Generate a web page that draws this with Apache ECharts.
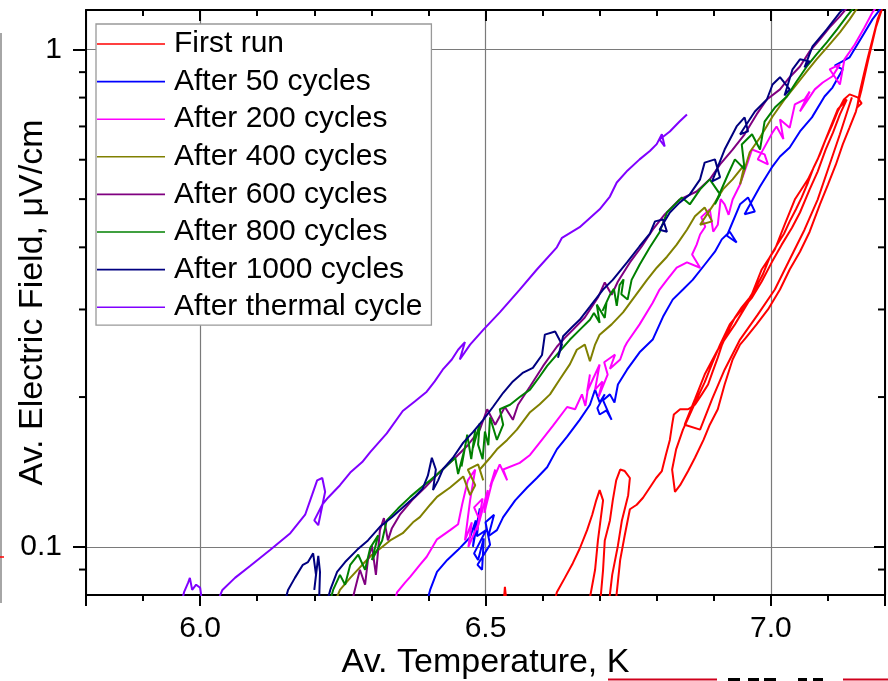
<!DOCTYPE html>
<html>
<head>
<meta charset="utf-8">
<script src="https://cdn.jsdelivr.net/npm/echarts@6/dist/echarts.min.js"></script>
<style>
  html, body { margin: 0; padding: 0; background: #fff; }
  #chart { width: 888px; height: 681px; }
</style>
</head>
<body>
<div id="chart"></div>
<script>
// series names / colours (legend order)
const seriesNames = ['First run', 'After 50 cycles', 'After 200 cycles', 'After 400 cycles',
  'After 600 cycles', 'After 800 cycles', 'After 1000 cycles', 'After thermal cycle']
const seriesColors = ['#ff0000', '#0000ff', '#ff00ff', '#808000', '#800080', '#008000', '#000080', '#8000ff']

// [temperature K, electric field uV/cm]
// points under 0.08 leave the plot, that is where a trace breaks
const firstRun = [
  [6.531, 0.075], [6.534, 0.0831], [6.538, 0.075],
  [6.618, 0.075], [6.625, 0.081], [6.639, 0.0866], [6.653, 0.0927], [6.665, 0.0991], [6.678, 0.108],
  [6.687, 0.116], [6.694, 0.124], [6.700, 0.130], [6.706, 0.124], [6.697, 0.103], [6.692, 0.0899],
  [6.683, 0.079], [6.680, 0.075],
  [6.700, 0.075], [6.706, 0.0899], [6.709, 0.103], [6.718, 0.113], [6.723, 0.124], [6.729, 0.136],
  [6.736, 0.143], [6.744, 0.142], [6.753, 0.1375], [6.750, 0.127], [6.739, 0.113], [6.732, 0.1005],
  [6.722, 0.0878], [6.715, 0.075],
  [6.727, 0.075], [6.736, 0.0941], [6.744, 0.1055], [6.753, 0.119], [6.765, 0.1215], [6.776, 0.1255],
  [6.788, 0.1316], [6.799, 0.1375], [6.809, 0.142], [6.816, 0.153], [6.823, 0.164], [6.827, 0.176],
  [6.830, 0.1845], [6.841, 0.189], [6.855, 0.189], [6.867, 0.193], [6.879, 0.2025], [6.890, 0.212],
  [6.898, 0.225], [6.907, 0.240], [6.914, 0.254], [6.925, 0.271], [6.937, 0.289], [6.949, 0.303],
  [6.963, 0.317], [6.975, 0.334], [6.986, 0.353], [6.998, 0.382], [7.011, 0.405], [7.023, 0.426],
  [7.033, 0.451], [7.044, 0.477], [7.054, 0.504], [7.065, 0.540], [7.075, 0.579], [7.086, 0.615],
  [7.096, 0.659], [7.107, 0.703], [7.117, 0.750], [7.128, 0.793], [7.138, 0.812], [7.152, 0.801],
  [7.159, 0.779], [7.151, 0.764], [7.156, 0.823], [7.163, 0.891], [7.170, 0.963], [7.179, 1.057],
  [7.187, 1.149], [7.198, 1.238],
  [7.184, 1.107], [7.170, 0.946], [7.159, 0.831], [7.149, 0.750], [7.138, 0.697], [7.126, 0.644],
  [7.114, 0.587], [7.100, 0.535], [7.086, 0.488], [7.068, 0.430], [7.051, 0.392], [7.033, 0.361],
  [7.016, 0.329], [6.995, 0.300], [6.975, 0.280], [6.956, 0.263], [6.946, 0.255], [6.933, 0.238],
  [6.919, 0.212], [6.907, 0.189], [6.893, 0.176], [6.882, 0.164], [6.867, 0.151], [6.855, 0.142],
  [6.841, 0.133], [6.832, 0.129],
  [6.827, 0.143], [6.834, 0.157], [6.846, 0.172], [6.858, 0.1845], [6.870, 0.198], [6.884, 0.214],
  [6.897, 0.2335], [6.911, 0.255], [6.928, 0.280], [6.946, 0.297], [6.967, 0.317], [6.984, 0.3415],
  [7.002, 0.374], [7.019, 0.405], [7.037, 0.438], [7.051, 0.470], [7.068, 0.523], [7.082, 0.568],
  [7.096, 0.629], [7.109, 0.681], [7.121, 0.740], [7.133, 0.793],
  [7.117, 0.757], [7.096, 0.659], [7.082, 0.601], [7.065, 0.548], [7.042, 0.499], [7.024, 0.444],
  [7.007, 0.396], [6.984, 0.361], [6.963, 0.314], [6.937, 0.280], [6.907, 0.249], [6.884, 0.222],
  [6.867, 0.198], [6.849, 0.176],
  [6.876, 0.172], [6.897, 0.198], [6.919, 0.227], [6.946, 0.261], [6.977, 0.293], [7.007, 0.329],
  [7.033, 0.378], [7.059, 0.434], [7.082, 0.499], [7.103, 0.587], [7.121, 0.675], [7.135, 0.757],
  [7.142, 0.801]
]
const after50 = [
  [6.394, 0.075], [6.403, 0.0819], [6.415, 0.089], [6.433, 0.0941], [6.452, 0.0986], [6.473, 0.1045],
  [6.483, 0.113], [6.478, 0.100], [6.490, 0.1195], [6.485, 0.105], [6.501, 0.108], [6.480, 0.097],
  [6.487, 0.0941], [6.497, 0.104], [6.494, 0.0899], [6.486, 0.092], [6.508, 0.101], [6.500, 0.112],
  [6.515, 0.116], [6.505, 0.105], [6.520, 0.108], [6.531, 0.1147], [6.552, 0.124], [6.573, 0.1316],
  [6.590, 0.1375], [6.608, 0.1445], [6.625, 0.157], [6.643, 0.1665], [6.665, 0.180], [6.683, 0.193],
  [6.692, 0.207], [6.700, 0.195], [6.709, 0.2025], [6.696, 0.190], [6.700, 0.1845], [6.712, 0.188],
  [6.721, 0.180], [6.706, 0.197], [6.718, 0.2025], [6.726, 0.195], [6.732, 0.212], [6.748, 0.227],
  [6.770, 0.246], [6.793, 0.261], [6.811, 0.290], [6.828, 0.314], [6.846, 0.329], [6.863, 0.344],
  [6.884, 0.369], [6.902, 0.392], [6.914, 0.415], [6.928, 0.430], [6.940, 0.409], [6.923, 0.422],
  [6.946, 0.488], [6.960, 0.504], [6.972, 0.472], [6.954, 0.466], [6.981, 0.530], [7.003, 0.582],
  [7.016, 0.609], [7.033, 0.635], [7.051, 0.684], [7.072, 0.730], [7.094, 0.804], [7.108, 0.838],
  [7.126, 0.912], [7.112, 0.928], [7.138, 0.964], [7.159, 1.057], [7.178, 1.149], [7.194, 1.215]
]
const after200 = [
  [6.338, 0.075], [6.345, 0.081], [6.359, 0.0847], [6.368, 0.087], [6.385, 0.092], [6.397, 0.0955],
  [6.415, 0.1035], [6.438, 0.108], [6.452, 0.111], [6.459, 0.1215], [6.469, 0.136], [6.482, 0.143],
  [6.473, 0.124], [6.464, 0.103], [6.476, 0.112], [6.470, 0.100], [6.490, 0.113], [6.480, 0.120],
  [6.495, 0.125], [6.485, 0.108], [6.504, 0.130], [6.498, 0.117], [6.517, 0.143], [6.508, 0.132],
  [6.525, 0.1465], [6.538, 0.136], [6.531, 0.143], [6.560, 0.1475], [6.578, 0.153], [6.595, 0.162],
  [6.618, 0.175], [6.643, 0.191], [6.657, 0.189], [6.669, 0.2025], [6.675, 0.192], [6.683, 0.222],
  [6.678, 0.205], [6.700, 0.2325], [6.692, 0.207], [6.705, 0.215], [6.698, 0.200], [6.714, 0.222],
  [6.708, 0.235], [6.727, 0.2435], [6.718, 0.228], [6.736, 0.238], [6.744, 0.2525], [6.748, 0.2575],
  [6.770, 0.280], [6.793, 0.3095], [6.805, 0.329], [6.818, 0.344], [6.835, 0.364], [6.853, 0.373],
  [6.876, 0.364], [6.862, 0.387], [6.870, 0.405], [6.876, 0.4245], [6.885, 0.440], [6.878, 0.460],
  [6.893, 0.477], [6.899, 0.430], [6.907, 0.444], [6.912, 0.500], [6.919, 0.488], [6.926, 0.465],
  [6.933, 0.499], [6.946, 0.535], [6.960, 0.595], [6.967, 0.629], [6.989, 0.615], [6.995, 0.587],
  [6.977, 0.601], [7.003, 0.681], [7.010, 0.700], [7.022, 0.660], [7.016, 0.723], [7.033, 0.696],
  [7.042, 0.775], [7.059, 0.793], [7.068, 0.823], [7.051, 0.750], [7.077, 0.831], [7.091, 0.858],
  [7.108, 0.883], [7.121, 0.933], [7.103, 0.912], [7.121, 0.850], [7.129, 0.955], [7.147, 1.023],
  [7.164, 1.107], [7.178, 1.187], [7.191, 1.243]
]
const after400 = [
  [6.231, 0.075], [6.245, 0.0819], [6.263, 0.0866], [6.284, 0.092], [6.301, 0.0964], [6.315, 0.0991],
  [6.333, 0.103], [6.355, 0.1065], [6.373, 0.112], [6.385, 0.1147], [6.403, 0.1215], [6.415, 0.126],
  [6.438, 0.1316], [6.461, 0.1385], [6.473, 0.127], [6.482, 0.133], [6.469, 0.143], [6.487, 0.1465],
  [6.496, 0.136], [6.490, 0.143], [6.508, 0.151], [6.520, 0.157], [6.538, 0.164], [6.555, 0.172],
  [6.578, 0.1865], [6.595, 0.1935], [6.613, 0.2025], [6.630, 0.217], [6.648, 0.233], [6.660, 0.249],
  [6.674, 0.255], [6.683, 0.236], [6.692, 0.255], [6.700, 0.267], [6.721, 0.280], [6.741, 0.296],
  [6.762, 0.319], [6.783, 0.344], [6.800, 0.364], [6.818, 0.383], [6.835, 0.405], [6.853, 0.434],
  [6.867, 0.462], [6.884, 0.481], [6.897, 0.451], [6.876, 0.444], [6.902, 0.492], [6.916, 0.523],
  [6.933, 0.548], [6.954, 0.587], [6.946, 0.535], [6.963, 0.621], [6.981, 0.665], [7.003, 0.733],
  [7.024, 0.793], [7.045, 0.850], [7.063, 0.903], [7.080, 0.955], [7.100, 1.014], [7.121, 1.082],
  [7.138, 1.149], [7.150, 1.204], [7.159, 1.243]
]
const after600 = [
  [6.263, 0.075], [6.271, 0.0819], [6.280, 0.0899], [6.289, 0.0839], [6.294, 0.0941], [6.301, 0.1005],
  [6.308, 0.0878], [6.315, 0.108], [6.322, 0.1142], [6.329, 0.103], [6.336, 0.109], [6.350, 0.116],
  [6.371, 0.124], [6.394, 0.1316], [6.420, 0.1415], [6.447, 0.151], [6.469, 0.160], [6.490, 0.172],
  [6.503, 0.189], [6.517, 0.176], [6.534, 0.191], [6.548, 0.180], [6.557, 0.193], [6.578, 0.210],
  [6.601, 0.231], [6.625, 0.2525], [6.639, 0.263], [6.653, 0.273], [6.674, 0.289], [6.697, 0.317],
  [6.709, 0.340], [6.721, 0.321], [6.732, 0.3415], [6.753, 0.373], [6.774, 0.402], [6.793, 0.434],
  [6.814, 0.466], [6.840, 0.499], [6.870, 0.518], [6.893, 0.548], [6.911, 0.587], [6.933, 0.629],
  [6.954, 0.675], [6.975, 0.740], [6.993, 0.793], [7.016, 0.831], [7.033, 0.879], [7.051, 0.924],
  [7.068, 0.991], [7.086, 1.047], [7.103, 1.107], [7.121, 1.165], [7.138, 1.23]
]
const after800 = [
  [6.224, 0.075], [6.233, 0.0819], [6.245, 0.0878], [6.254, 0.0839], [6.263, 0.092], [6.277, 0.0964],
  [6.289, 0.0899], [6.298, 0.0995], [6.312, 0.1055], [6.301, 0.0941], [6.319, 0.103], [6.327, 0.113],
  [6.347, 0.1195], [6.368, 0.126], [6.385, 0.131], [6.403, 0.136], [6.425, 0.143], [6.447, 0.151],
  [6.452, 0.140], [6.462, 0.155], [6.458, 0.145], [6.468, 0.168], [6.475, 0.150], [6.482, 0.172],
  [6.478, 0.158], [6.490, 0.177], [6.487, 0.1605], [6.495, 0.150], [6.499, 0.1705], [6.505, 0.160],
  [6.508, 0.182], [6.520, 0.164], [6.531, 0.176], [6.525, 0.189], [6.543, 0.193], [6.560, 0.200],
  [6.578, 0.207], [6.595, 0.220], [6.608, 0.231], [6.630, 0.247], [6.648, 0.261], [6.665, 0.273],
  [6.683, 0.286], [6.690, 0.295], [6.700, 0.282], [6.695, 0.307], [6.709, 0.2885], [6.712, 0.310],
  [6.705, 0.298], [6.718, 0.321], [6.725, 0.330], [6.730, 0.305], [6.735, 0.336], [6.742, 0.345],
  [6.738, 0.322], [6.749, 0.314], [6.756, 0.344], [6.770, 0.369], [6.788, 0.400], [6.805, 0.429],
  [6.818, 0.470], [6.832, 0.488], [6.844, 0.504], [6.858, 0.488], [6.876, 0.523], [6.893, 0.548],
  [6.911, 0.511], [6.902, 0.488], [6.925, 0.561], [6.937, 0.601], [6.954, 0.574], [6.949, 0.644],
  [6.967, 0.675], [6.981, 0.629], [6.989, 0.716], [7.007, 0.764], [7.028, 0.804], [7.045, 0.862],
  [7.063, 0.924], [7.080, 0.977], [7.098, 1.033], [7.116, 1.097], [7.133, 1.165], [7.147, 1.22],
  [7.156, 1.26]
]
const after1000 = [
  [6.145, 0.075], [6.154, 0.0819], [6.166, 0.0866], [6.180, 0.092], [6.189, 0.0932], [6.198, 0.097],
  [6.203, 0.0878], [6.200, 0.0819], [6.207, 0.0959], [6.210, 0.089], [6.208, 0.075],
  [6.219, 0.075], [6.228, 0.0819], [6.240, 0.089], [6.254, 0.0932], [6.275, 0.0986], [6.294, 0.103],
  [6.315, 0.1097], [6.336, 0.1147], [6.355, 0.120], [6.376, 0.126], [6.390, 0.131], [6.399, 0.139],
  [6.406, 0.151], [6.413, 0.143], [6.408, 0.130], [6.417, 0.136], [6.425, 0.143], [6.443, 0.151],
  [6.461, 0.162], [6.478, 0.170], [6.496, 0.180], [6.513, 0.191], [6.531, 0.204], [6.548, 0.215],
  [6.566, 0.224], [6.583, 0.229], [6.599, 0.243], [6.604, 0.267], [6.622, 0.271], [6.634, 0.255],
  [6.627, 0.240], [6.636, 0.265], [6.651, 0.276], [6.665, 0.286], [6.683, 0.304], [6.706, 0.329],
  [6.723, 0.344], [6.748, 0.373], [6.770, 0.402], [6.788, 0.426], [6.797, 0.451], [6.811, 0.455],
  [6.818, 0.430], [6.805, 0.434], [6.823, 0.470], [6.840, 0.492], [6.858, 0.511], [6.876, 0.548],
  [6.884, 0.592], [6.902, 0.601], [6.911, 0.553], [6.897, 0.543], [6.919, 0.629], [6.940, 0.700],
  [6.954, 0.730], [6.960, 0.684], [6.946, 0.675], [6.972, 0.750], [6.993, 0.793], [7.003, 0.850],
  [7.016, 0.879], [7.033, 0.831], [7.024, 0.808], [7.038, 0.912], [7.051, 0.955], [7.068, 0.946],
  [7.059, 0.920], [7.073, 1.014], [7.098, 1.097], [7.121, 1.187], [7.135, 1.23]
]
const afterThermal = [
  [5.965, 0.075], [5.972, 0.0812], [5.979, 0.0847], [5.982, 0.0866], [5.986, 0.0819], [5.993, 0.0839],
  [6.000, 0.0827], [6.005, 0.075],
  [6.025, 0.075], [6.039, 0.0819], [6.061, 0.0866], [6.088, 0.0916], [6.123, 0.0986], [6.158, 0.1065],
  [6.184, 0.116], [6.196, 0.127], [6.205, 0.136], [6.214, 0.1375], [6.219, 0.129], [6.207, 0.1105],
  [6.200, 0.113], [6.214, 0.1215], [6.224, 0.1255], [6.245, 0.133], [6.263, 0.141], [6.284, 0.148],
  [6.298, 0.155], [6.327, 0.169], [6.355, 0.1875], [6.376, 0.196], [6.397, 0.205], [6.411, 0.215],
  [6.425, 0.227], [6.441, 0.238], [6.452, 0.249], [6.464, 0.258], [6.455, 0.238], [6.473, 0.255],
  [6.496, 0.273], [6.525, 0.296], [6.560, 0.329], [6.590, 0.361], [6.625, 0.400], [6.634, 0.418],
  [6.665, 0.439], [6.700, 0.477], [6.718, 0.506], [6.730, 0.540], [6.749, 0.571], [6.770, 0.601],
  [6.788, 0.625], [6.800, 0.645], [6.809, 0.675], [6.814, 0.638], [6.805, 0.659], [6.823, 0.684],
  [6.840, 0.716], [6.853, 0.740]
]
const seriesData = [firstRun, after50, after200, after400, after600, after800, after1000, afterThermal]

// axis ranges and the log minor ticks (0.09, 0.2 ... 0.9)
const xRange = [5.8, 7.2]
const yRange = [0.08, 1.2]
const yMinorTicks = [0.09, 0.2, 0.3, 0.4, 0.5, 0.6, 0.7, 0.8, 0.9]

const FONT = '"Liberation Sans", Arial, Helvetica, sans-serif'

const chart = echarts.init(document.getElementById('chart'), null, { renderer: 'canvas' })

const axisLineStyle = { color: '#000', width: 2 }

const option = {
  animation: false,
  backgroundColor: '#fff',
  textStyle: { fontFamily: FONT },
  grid: { left: 86, right: 3, top: 10, bottom: 86, containLabel: false, outerBoundsMode: 'none' },
  legend: {
    data: seriesNames,
    orient: 'vertical',
    left: 96,
    top: 24,
    icon: 'rect',
    itemWidth: 68,
    itemHeight: 1.6,
    itemGap: 7.6,
    padding: [5, 9, 3, 1],
    backgroundColor: '#fff',
    borderColor: '#999',
    borderWidth: 1.3,
    borderRadius: 0,
    selectedMode: false,
    textStyle: { fontSize: 30, lineHeight: 30, color: '#000', fontFamily: FONT, padding: [0, 0, 0, 4] }
  },
  xAxis: [
    {
      type: 'value', position: 'bottom', min: xRange[0], max: xRange[1], splitNumber: 3,
      name: 'Av. Temperature, K', nameLocation: 'middle', nameGap: 51, nameMoveOverlap: false,
      nameTextStyle: { fontSize: 34, color: '#000', fontFamily: FONT },
      axisLine: { show: true, onZero: false, lineStyle: axisLineStyle },
      axisTick: { show: true, inside: false, length: 11, lineStyle: axisLineStyle },
      minorTick: { show: true, splitNumber: 5, length: 6, lineStyle: axisLineStyle },
      axisLabel: { show: true, margin: 19, fontSize: 30, color: '#000', fontFamily: FONT,
        showMinLabel: false, showMaxLabel: false, formatter: v => v.toFixed(1) },
      splitLine: { show: true, lineStyle: { color: '#7a7a7a', width: 1.2 } }
    },
    {
      type: 'value', position: 'top', min: xRange[0], max: xRange[1], splitNumber: 3,
      axisLine: { show: true, onZero: false, lineStyle: axisLineStyle },
      axisTick: { show: true, inside: true, length: 11, lineStyle: axisLineStyle },
      minorTick: { show: true, splitNumber: 5, length: 6, lineStyle: axisLineStyle },
      axisLabel: { show: false },
      splitLine: { show: false }
    }
  ],
  yAxis: [
    {
      type: 'log', logBase: 10, position: 'left', min: yRange[0], max: yRange[1],
      name: 'Av. Electric Field, \u03bcV/cm', nameLocation: 'middle', nameGap: 36, nameRotate: 90,
      nameMoveOverlap: false,
      nameTextStyle: { fontSize: 34, color: '#000', fontFamily: FONT },
      axisLine: { show: true, onZero: false, lineStyle: axisLineStyle },
      axisTick: { show: true, inside: false, length: 13, lineStyle: axisLineStyle },
      axisLabel: { show: true, margin: 24, fontSize: 30, color: '#000', fontFamily: FONT,
        showMinLabel: false, showMaxLabel: false },
      splitLine: { show: true, lineStyle: { color: '#7a7a7a', width: 1.2 } }
    },
    {
      type: 'log', logBase: 10, position: 'right', min: yRange[0], max: yRange[1],
      axisLine: { show: true, onZero: false, lineStyle: axisLineStyle },
      axisTick: { show: true, inside: true, length: 11, lineStyle: axisLineStyle },
      axisLabel: { show: false },
      splitLine: { show: false }
    }
  ],
  series: seriesData.map((d, i) => ({
    name: seriesNames[i],
    type: 'line',
    data: d,
    xAxisIndex: 0,
    yAxisIndex: 0,
    symbol: 'none',
    showSymbol: false,
    clip: true,
    z: 2 + i * 0.01,
    itemStyle: { color: seriesColors[i] },
    lineStyle: { color: seriesColors[i], width: 2 }
  })).concat([{
    // minor ticks of the log axes: left side outward, right side inward
    name: 'yMinor',
    type: 'custom',
    xAxisIndex: 0,
    yAxisIndex: 0,
    silent: true,
    z: 10,
    data: yMinorTicks.map(v => [xRange[0], v]),
    renderItem: (params, api) => {
      const v = api.value(1)
      const p = api.coord([xRange[0], v])
      const q = api.coord([xRange[1], v])
      const st = { stroke: '#000', lineWidth: 2 }
      return {
        type: 'group',
        children: [
          { type: 'line', shape: { x1: p[0] - 7, y1: p[1], x2: p[0], y2: p[1] }, style: st },
          { type: 'line', shape: { x1: q[0] - 7, y1: q[1], x2: q[0], y2: q[1] }, style: st }
        ]
      }
    }
  }]),
  // bits of the neighbouring figure cut off at the edges of the picture
  graphic: [
    { type: 'line', shape: { x1: 1, y1: 33, x2: 1, y2: 603 }, style: { stroke: '#888', lineWidth: 1.5 } },
    { type: 'line', shape: { x1: 0, y1: 557, x2: 4, y2: 557 }, style: { stroke: '#f00', lineWidth: 1.5 } },
    { type: 'line', shape: { x1: 608, y1: 679.5, x2: 717, y2: 679.5 }, style: { stroke: '#d0001c', lineWidth: 2 } },
    { type: 'line', shape: { x1: 843, y1: 679.5, x2: 888, y2: 679.5 }, style: { stroke: '#d0001c', lineWidth: 2 } },
    { type: 'rect', shape: { x: 728, y: 678, width: 12, height: 3 }, style: { fill: '#000' } },
    { type: 'rect', shape: { x: 748, y: 678, width: 11, height: 3 }, style: { fill: '#000' } },
    { type: 'rect', shape: { x: 764, y: 678, width: 12, height: 3 }, style: { fill: '#000' } },
    { type: 'rect', shape: { x: 798, y: 678, width: 9, height: 3 }, style: { fill: '#000' } },
    { type: 'rect', shape: { x: 813, y: 678, width: 10, height: 3 }, style: { fill: '#000' } }
  ]
}

chart.setOption(option)
</script>
</body>
</html>
